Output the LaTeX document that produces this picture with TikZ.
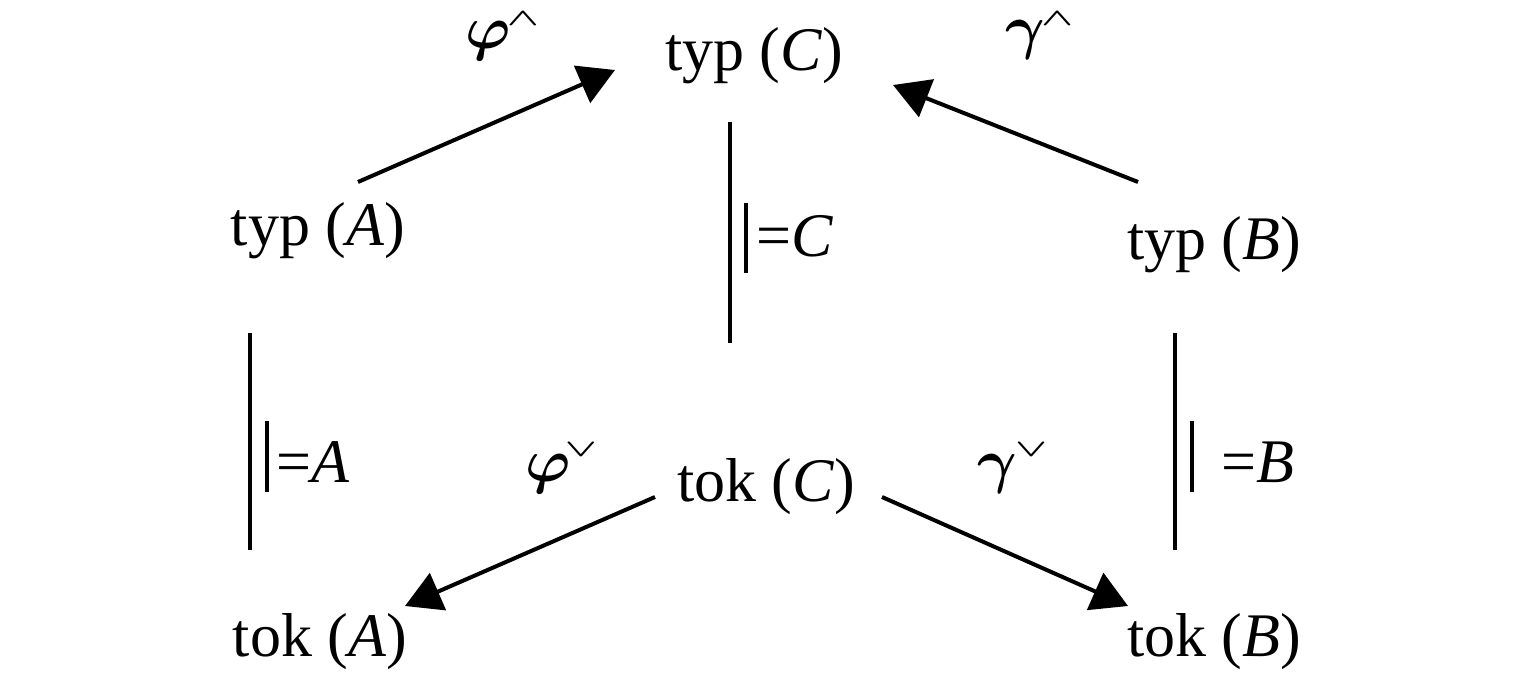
\documentclass[tikz,border=0pt]{standalone}
\usepackage{fontspec}
\setmainfont{Liberation Serif}
\usetikzlibrary{arrows.meta}
\newcommand{\supop}[2]{\raisebox{#1}{\fontsize{20.74}{24}\selectfont\boldmath\scalebox{1.01}[0.58]{$#2$}}}
\newcommand{\bigsym}[1]{\scalebox{1.22}{$#1$}}
\begin{document}
\begin{tikzpicture}[x=0.5pt,y=-0.5pt,
  lbl/.style={inner sep=0pt,anchor=base,font=\fontsize{31}{36}\selectfont},
  greek/.style={inner sep=0pt,anchor=base west,font=\fontsize{24.88}{30}\selectfont\boldmath},
  arr/.style={line width=2pt,-{Triangle[length=18pt,width=20pt]}},
  bar/.style={line width=2pt},
  thinbar/.style={line width=2.2pt}]
\useasboundingbox (0,0) rectangle (1535,673);
% nodes
\node[lbl] (typC) at (754,71) {typ (\textit{C})};
\node[lbl] (typA) at (318,246) {typ (\textit{A})};
\node[lbl] (typB) at (1214,260) {typ (\textit{B})};
\node[lbl] (tokC) at (766,501) {tok (\textit{C})};
\node[lbl] (tokA) at (320,656) {tok (\textit{A})};
\node[lbl] (tokB) at (1214,656) {tok (\textit{B})};
% arrow endpoints
\coordinate (a1s) at (358,182); \coordinate (a1e) at (615,70);
\coordinate (a2s) at (1138,182); \coordinate (a2e) at (893,85);
\coordinate (a3s) at (655,497); \coordinate (a3e) at (405,606);
\coordinate (a4s) at (882,497); \coordinate (a4e) at (1128,606);
\draw[arr] (a1s) -- (a1e);
\draw[arr] (a2s) -- (a2e);
\draw[arr] (a3s) -- (a3e);
\draw[arr] (a4s) -- (a4e);
% arrow labels
\node[greek] (l1) at (465,49) {\bigsym{\varphi}\kern-2pt\supop{11.5pt}{\wedge}};
\node[greek] (l2) at (1005,48) {\bigsym{\gamma}\kern-2pt\supop{11pt}{\wedge}};
\node[greek] (l3) at (525,481) {\bigsym{\varphi}\kern-3pt\supop{12.5pt}{\vee}};
\node[greek] (l4) at (977,481) {\bigsym{\gamma}\kern-1pt\supop{12.5pt}{\vee}};
% vertical lines
\coordinate (vA1) at (250,333); \coordinate (vA2) at (250,550);
\coordinate (vC1) at (730,122); \coordinate (vC2) at (730,343);
\coordinate (vB1) at (1175,333); \coordinate (vB2) at (1175,550);
\draw[bar] (vA1) -- (vA2);
\draw[bar] (vC1) -- (vC2);
\draw[bar] (vB1) -- (vB2);
% satisfaction symbols
\coordinate (sA1) at (267,421); \coordinate (sA2) at (267,492);
\coordinate (sC1) at (746,203); \coordinate (sC2) at (746,273);
\coordinate (sB1) at (1192,421); \coordinate (sB2) at (1192,492);
\draw[thinbar] (sA1) -- (sA2);
\draw[thinbar] (sC1) -- (sC2);
\draw[thinbar] (sB1) -- (sB2);
\node[lbl,anchor=base west] (eA) at (276,482) {=\textit{A}};
\node[lbl,anchor=base west] (eC) at (756,257) {=\textit{C}};
\node[lbl,anchor=base west] (eB) at (1221,482) {=\textit{B}};
\end{tikzpicture}
\end{document}
